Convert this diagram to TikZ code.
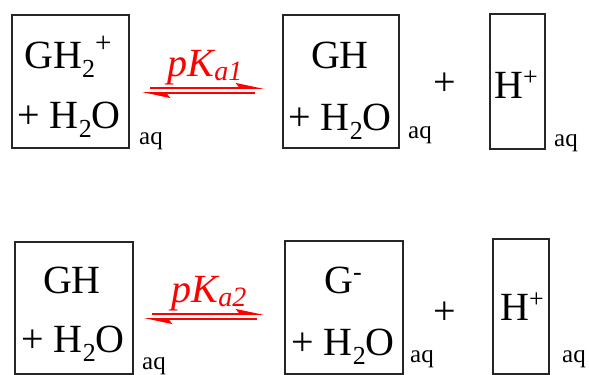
\documentclass[tikz,border=0pt]{standalone}
\usepackage{fontspec}
\setmainfont{Liberation Serif}
\newfontfamily\tnr{Liberation Serif}
\usetikzlibrary{arrows.meta}
\newcommand\chsub[1]{\raisebox{-9pt}{\fontsize{26}{26}\selectfont #1}}
\newcommand\chsup[1]{\raisebox{13pt}{\fontsize{26}{26}\selectfont #1}}
\newcommand\chsupbig[1]{\raisebox{16pt}{\fontsize{29}{29}\selectfont #1}}
\newcommand\pkasub[1]{\raisebox{-4pt}{\fontsize{28}{28}\selectfont\itshape #1}}
\tikzset{
  boxnode/.style={draw=black!85, line width=1.4pt, inner sep=0pt},
  chem/.style={inner sep=0pt, anchor=base, font=\tnr\fontsize{40}{44}\selectfont},
  aqlabel/.style={inner sep=0pt, anchor=base, font=\tnr\fontsize{25}{28}\selectfont},
  pka/.style={inner sep=0pt, anchor=base, text=red, font=\tnr\fontsize{40}{44}\selectfont\itshape},
  fwd/.style={draw=red, line width=1.8pt, -{Stealth[left, length=24pt, width=10pt, inset=4pt]}},
  bwd/.style={draw=red, line width=1.8pt, -{Stealth[left, length=24pt, width=10pt, inset=4pt]}}
}
\begin{document}
\begin{tikzpicture}[x=1pt, y=-1pt]
\useasboundingbox (0,0) rectangle (590,375);
% ---------- top row ----------
\node[boxnode, minimum width=117pt, minimum height=133pt] (b1) at (70.5,81.5) {};
\node[boxnode, minimum width=116pt, minimum height=133pt] (b2) at (341,81.5) {};
\node[boxnode, minimum width=55pt, minimum height=135pt] (b3) at (517.5,81.5) {};
\node[chem] (t1a) at (68,68) {GH\chsub{2}\chsupbig{+}};
\node[chem] (t1b) at (69,128) {+ H\chsub{2}O};
\node[chem] (t2a) at (340,68) {GH};
\node[chem] (t2b) at (340,130) {+ H\chsub{2}O};
\node[chem] (t3) at (516,98) {H\chsup{+}};
\node[chem, anchor=center] (p1) at (445,84) {+};
\node[aqlabel] (aq1) at (151,144) {aq};
\node[aqlabel] (aq2) at (420,138) {aq};
\node[aqlabel] (aq3) at (566,146) {aq};
\node[pka] (k1) at (205,76) {pK\pkasub{a1}};
\coordinate (f1s) at (150,88);
\coordinate (f1e) at (264,88);
\coordinate (r1s) at (255,93);
\coordinate (r1e) at (142,93);
\draw[fwd] (f1s) -- (f1e);
\draw[bwd] (r1s) -- (r1e);
% ---------- bottom row ----------
\node[boxnode, minimum width=118pt, minimum height=132pt] (c1) at (74,308) {};
\node[boxnode, minimum width=118pt, minimum height=133pt] (c2) at (344,307.5) {};
\node[boxnode, minimum width=56pt, minimum height=135pt] (c3) at (521,306.5) {};
\node[chem] (u1a) at (72,293) {GH};
\node[chem] (u1b) at (73,352) {+ H\chsub{2}O};
\node[chem] (u2a) at (343,293) {G\chsup{-}};
\node[chem] (u2b) at (343,355) {+ H\chsub{2}O};
\node[chem] (u3) at (522,320) {H\chsup{+}};
\node[chem, anchor=center] (p2) at (445,313) {+};
\node[aqlabel] (aq4) at (154,369) {aq};
\node[aqlabel] (aq5) at (422,362) {aq};
\node[aqlabel] (aq6) at (574,362) {aq};
\node[pka] (k2) at (209,302) {pK\pkasub{a2}};
\coordinate (f2s) at (152,314);
\coordinate (f2e) at (264,314);
\coordinate (r2s) at (257,319);
\coordinate (r2e) at (144,319);
\draw[fwd] (f2s) -- (f2e);
\draw[bwd] (r2s) -- (r2e);
\end{tikzpicture}
\end{document}
